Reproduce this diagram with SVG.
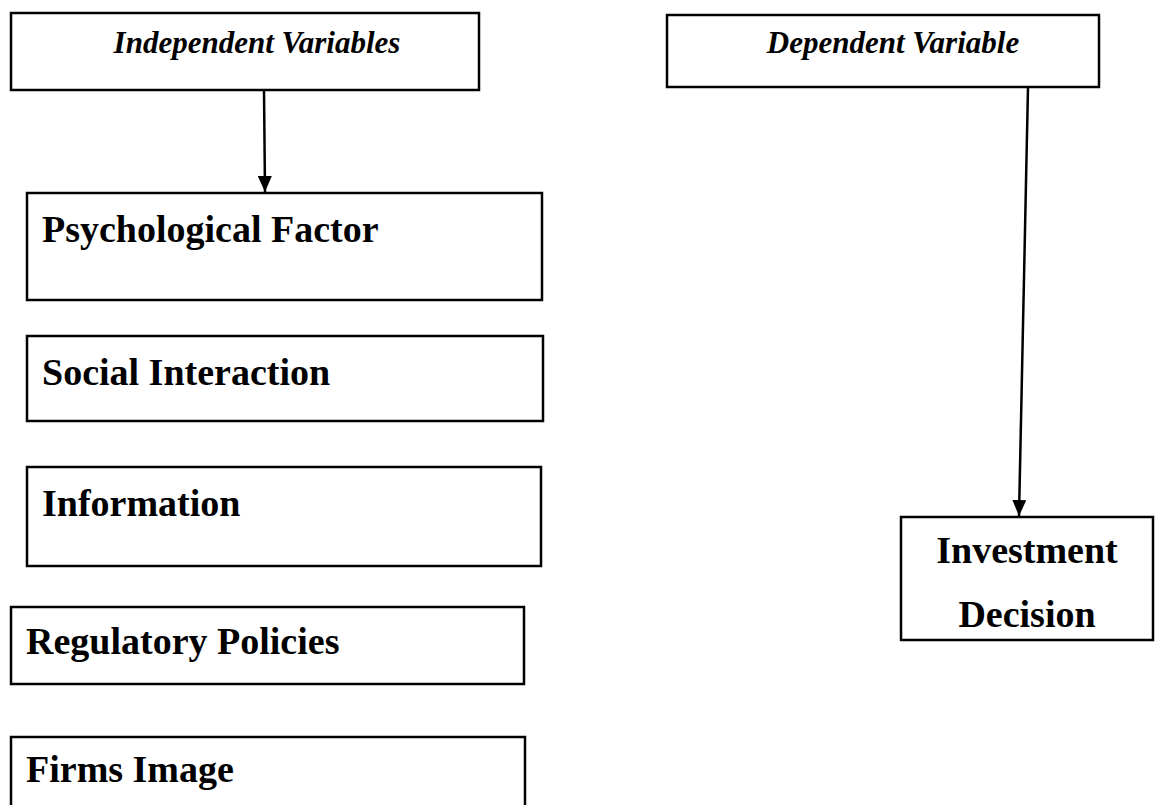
<svg xmlns="http://www.w3.org/2000/svg" width="1157" height="805" viewBox="0 0 1157 805">
<style>
.box{fill:#fff;stroke:#000;stroke-width:2.5}
.hd{font-family:"Liberation Serif","Times New Roman",serif;font-style:italic;font-weight:bold;font-size:31px;fill:#000}
.lb{font-family:"Liberation Serif","Times New Roman",serif;font-weight:bold;font-size:38px;fill:#000}
.ln{stroke:#000;stroke-width:2.5;fill:none}
</style>
<defs>
<marker id="ah" markerWidth="16" markerHeight="14" refX="16" refY="7" orient="auto" markerUnits="userSpaceOnUse" viewBox="0 0 16 14">
<path d="M0,0 L16,7 L0,14 z" fill="#000"/>
</marker>
</defs>
<rect width="1157" height="805" fill="#fff"/>
<g id="independent">
<rect class="box" x="11" y="13" width="468" height="77"/>
<text class="hd" x="257" y="53" text-anchor="middle">Independent Variables</text>
</g>
<g id="dependent">
<rect class="box" x="667" y="15" width="432" height="72"/>
<text class="hd" x="893" y="53" text-anchor="middle">Dependent Variable</text>
</g>
<g id="psychological">
<rect class="box" x="27" y="193" width="515" height="107"/>
<text class="lb" x="42" y="242">Psychological Factor</text>
</g>
<g id="social">
<rect class="box" x="27" y="336" width="516" height="85"/>
<text class="lb" x="42" y="385">Social Interaction</text>
</g>
<g id="information">
<rect class="box" x="27" y="467" width="514" height="99"/>
<text class="lb" x="42" y="516">Information</text>
</g>
<g id="regulatory">
<rect class="box" x="11" y="607" width="513" height="77"/>
<text class="lb" x="26" y="654">Regulatory Policies</text>
</g>
<g id="firms">
<rect class="box" x="11" y="737" width="514" height="90"/>
<text class="lb" x="26" y="782">Firms Image</text>
</g>
<g id="investment">
<rect class="box" x="901" y="517" width="252" height="123"/>
<text class="lb" x="1027" y="563" text-anchor="middle">Investment</text>
<text class="lb" x="1027" y="627" text-anchor="middle">Decision</text>
</g>
<g id="connectors">
<line class="ln" x1="264" y1="91" x2="265" y2="192" marker-end="url(#ah)"/>
<line class="ln" x1="1028" y1="87" x2="1019" y2="516" marker-end="url(#ah)"/>
</g>
</svg>
